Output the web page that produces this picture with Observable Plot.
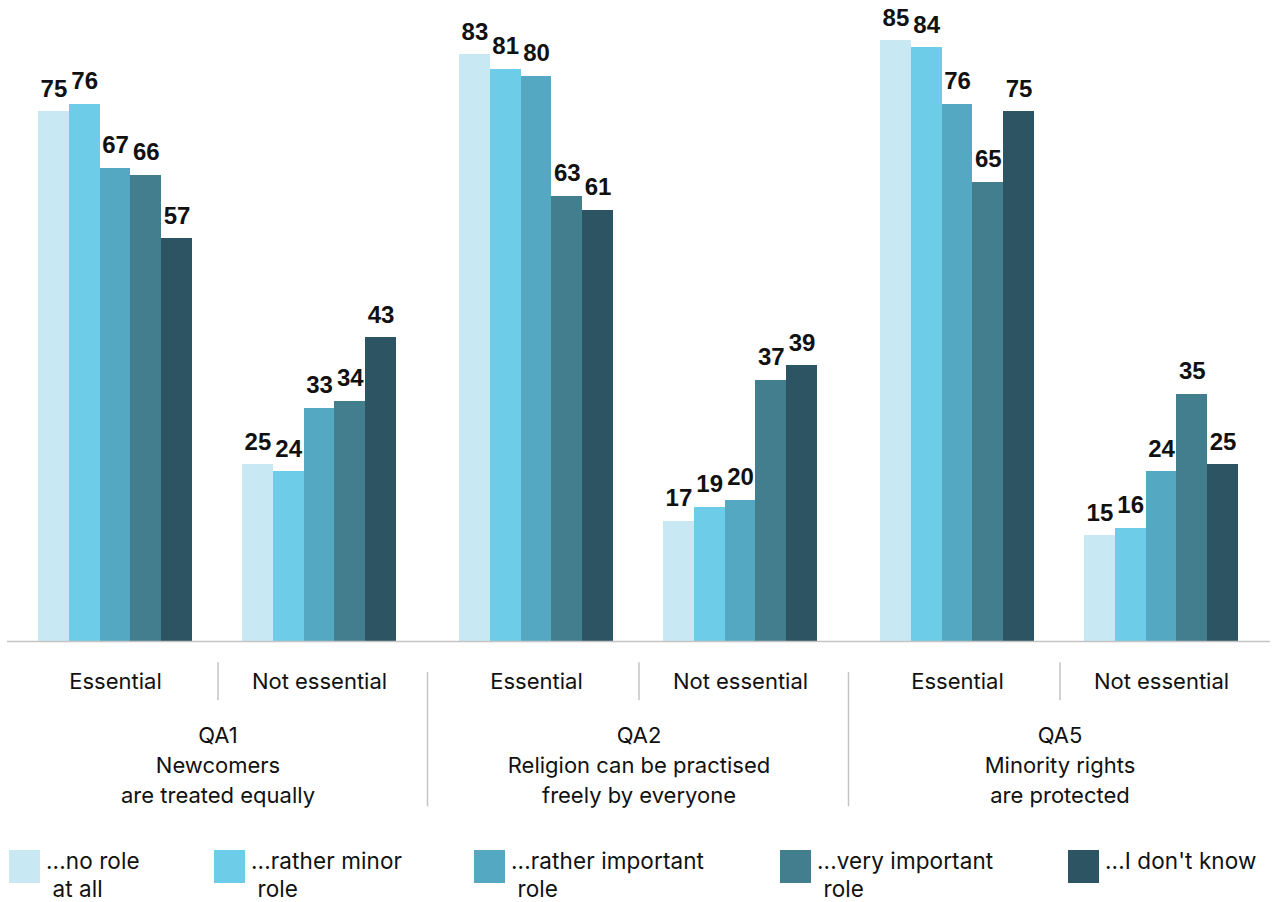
<!DOCTYPE html>
<html><head><meta charset="utf-8">
<script src="https://cdn.jsdelivr.net/npm/d3@7"></script>
<script src="https://cdn.jsdelivr.net/npm/@observablehq/plot@0.6"></script>
<style>
body{margin:0;background:#fff;font-family:Inter, Roboto, sans-serif;}
#chart{position:relative;width:1273px;height:902px;overflow:hidden;}
#chart svg{position:absolute;left:0;top:0;}
#chart svg g[aria-label="axis-text"] text{letter-spacing:0.35px;}
.item{position:absolute;top:850px;display:flex;align-items:flex-start;}
.sw{width:31px;height:33px;margin-right:6px;flex:none;}
.lab{font-size:22.5px;line-height:28px;margin-top:-3px;color:#111;white-space:pre;font-family:Inter, Roboto, sans-serif;letter-spacing:0.1px;}
</style></head><body><div id="chart"></div>
<script>
const questions = ["QA1", "QA2", "QA5"];
const questionTexts = ["Newcomers\nare treated equally", "Religion can be practised\nfreely by everyone", "Minority rights\nare protected"];
const categories = ["Essential", "Not essential"];
const series = ["...no role at all", "...rather minor role", "...rather important role", "...very important role", "...I don't know"];
const legendLabels = ["...no role\n at all", "...rather minor\n role", "...rather important\n role", "...very important\n role", "...I don't know"];
const colors = ["#c8e9f4", "#6dcde8", "#55a8c1", "#437e8f", "#2c5462"];
// order: QA1 Essential, QA1 Not essential, QA2 Essential, QA2 Not essential, QA5 Essential, QA5 Not essential
const noRole          = [75, 25, 83, 17, 85, 15];
const minorRole       = [76, 24, 81, 19, 84, 16];
const ratherImportant = [67, 33, 80, 20, 76, 24];
const veryImportant   = [66, 34, 63, 37, 65, 35];
const dontKnow        = [57, 43, 61, 39, 75, 25];
const seriesValues = [noRole, minorRole, ratherImportant, veryImportant, dontKnow];

const data = [];
series.forEach((s, i) => {
  seriesValues[i].forEach((v, j) => {
    data.push({question: questions[Math.floor(j / 2)], category: categories[j % 2], series: s, value: v});
  });
});
const qRows = questions.map((q, i) => ({question: q, label: q + "\n" + questionTexts[i]}));

const bw = 154 / 5; // width of one bar within a category band
const labelFont = "'Liberation Sans', Arial, sans-serif";
const axisFont = "Inter, Roboto, sans-serif";

const marks = [];
series.forEach((s, i) => {
  const d = data.filter(r => r.series === s);
  marks.push(Plot.barY(d, {fx: "question", x: "category", y: "value", fill: "series",
    insetLeft: i * bw, insetRight: (4 - i) * bw, shapeRendering: "crispEdges"}));
  marks.push(Plot.text(d, {fx: "question", x: "category", y: "value", text: "value",
    dx: (i - 2) * bw, dy: -15, lineAnchor: "bottom", fontSize: 24, fontWeight: "bold",
    fontFamily: labelFont, fill: "#111", ariaLabel: "bar-value"}));
});
marks.push(Plot.ruleY([0], {stroke: "#c4c4c4", strokeWidth: 1.5}));
marks.push(Plot.text(categories, {x: d => d, text: d => d, frameAnchor: "bottom", dy: 47,
  fontSize: 22, fontFamily: axisFont, fill: "#111", ariaLabel: "axis-text"}));
marks.push(Plot.ruleX(questions, {fx: d => d, x: null, y1: -3, y2: -8.4, stroke: "#c4c4c4", strokeWidth: 1.5}));
marks.push(Plot.ruleX(questions.slice(1), {fx: d => d, x: null, y1: -4.4, y2: -23.4, dx: -211.5, stroke: "#c4c4c4", strokeWidth: 1.5}));
marks.push(Plot.text(qRows, {fx: "question", text: "label", frameAnchor: "bottom", dy: 122,
  lineAnchor: "middle", lineHeight: 1.36, fontSize: 22, fontFamily: axisFont, fill: "#111", ariaLabel: "axis-text"}));

const plot = Plot.plot({
  width: 1273, height: 830,
  marginLeft: 7, marginRight: 3, marginTop: 5, marginBottom: 189,
  fx: {domain: questions, padding: 0, axis: null, label: null},
  x: {domain: categories, paddingInner: 0.245, paddingOuter: 0.154, axis: null},
  y: {domain: [0, 90], axis: null},
  color: {domain: series, range: colors},
  style: {background: "#fff", overflow: "visible"},
  marks
});
const chart = document.getElementById("chart");
chart.appendChild(plot);

// condense the bold value labels horizontally
plot.querySelectorAll('g[aria-label="bar-value"] text').forEach(t => {
  const tr = t.getAttribute("transform");
  if (tr) {
    t.setAttribute("transform", tr + " scale(0.78,1)");
  } else {
    const x = t.getAttribute("x") || 0, y = t.getAttribute("y") || 0;
    t.removeAttribute("x"); t.removeAttribute("y");
    t.setAttribute("transform", `translate(${x},${y}) scale(0.78,1)`);
  }
});

const legendX = [9, 214, 474, 780, 1068];
series.forEach((s, i) => {
  const item = document.createElement("div");
  item.className = "item";
  item.style.left = legendX[i] + "px";
  const sw = document.createElement("div");
  sw.className = "sw";
  sw.style.background = colors[i];
  const lab = document.createElement("div");
  lab.className = "lab";
  lab.textContent = legendLabels[i];
  item.appendChild(sw); item.appendChild(lab);
  chart.appendChild(item);
});
</script>
</body></html>
